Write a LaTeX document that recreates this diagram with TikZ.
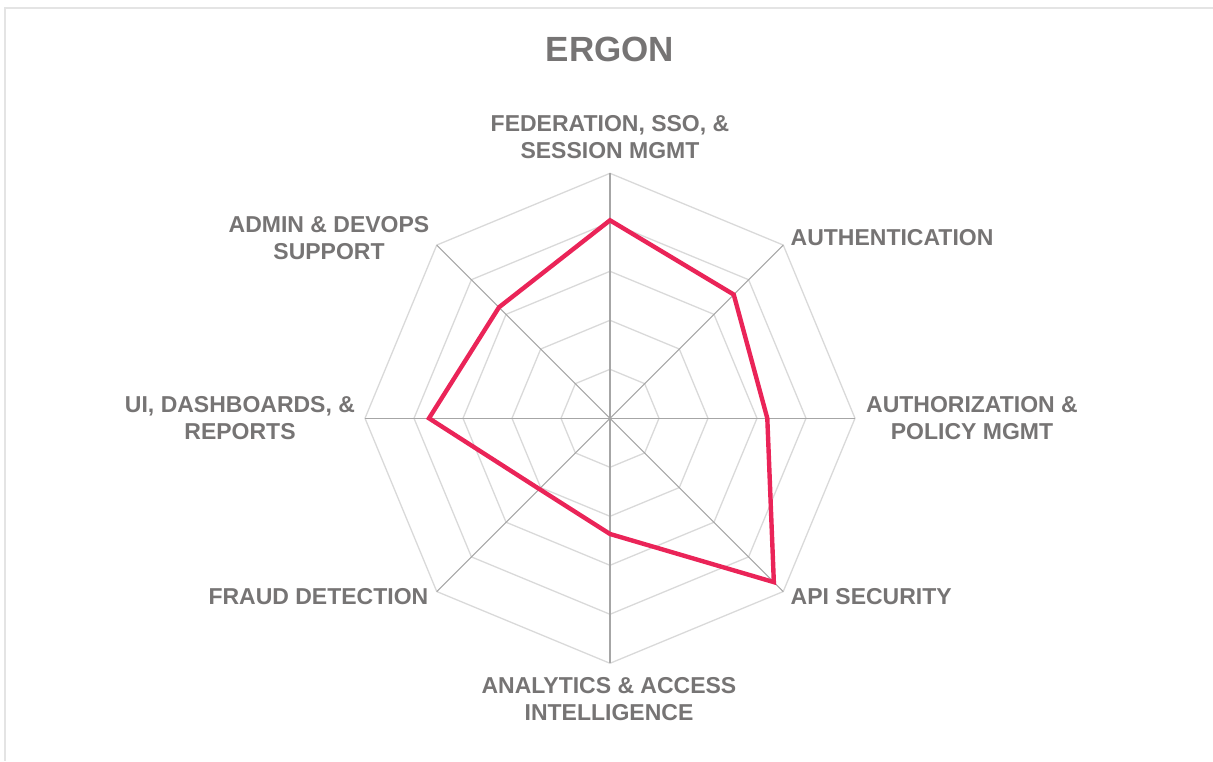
\documentclass[tikz,border=0pt]{standalone}
\usepackage{fontspec}
\setmainfont{Liberation Sans}
\usetikzlibrary{calc}
\definecolor{txtgray}{RGB}{118,116,116}
\definecolor{ringgray}{RGB}{217,217,217}
\definecolor{spokegray}{RGB}{166,166,166}
\definecolor{datared}{RGB}{234,36,88}
\definecolor{framegray}{RGB}{228,228,228}
\tikzset{
  lbl/.style={inner sep=0pt, text=txtgray, align=center,
    font=\fontsize{23}{27}\selectfont\bfseries},
  ttl/.style={inner sep=0pt, text=txtgray,
    font=\fontsize{35}{40}\selectfont\bfseries},
  ring/.style={draw=ringgray, line width=1.3pt, line join=miter},
  spoke/.style={draw=spokegray, line width=1.1pt},
  series/.style={draw=datared, line width=4.4pt, line join=miter},
  frame/.style={draw=framegray, line width=2pt}
}
\begin{document}
\begin{tikzpicture}[x=1pt,y=1pt]
\useasboundingbox (0,0) rectangle (1213,761);
% frame (top and left edges only)
\coordinate (fa) at (5,0);
\coordinate (fb) at (5,753);
\coordinate (fc) at (1213,753);
\draw[frame] (fa) -- (fb) -- (fc);
% centre
\coordinate (c) at (610,342.7);
% rings
\foreach \r in {49,98,147,196,245}{
  \draw[ring] ($(c)+(90:\r)$) \foreach \k in {1,...,7}{ -- ($(c)+(90-45*\k:\r)$)} -- cycle;
}
% spokes
\foreach \k in {0,...,7}{
  \coordinate (o\k) at ($(c)+(90-45*\k:245)$);
  \draw[spoke] (c) -- (o\k);
}
% data
\coordinate (p0) at ($(c)+(90:198)$);
\coordinate (p1) at ($(c)+(45:175)$);
\coordinate (p2) at ($(c)+(0:157.3)$);
\coordinate (p3) at ($(c)+(-45:231.7)$);
\coordinate (p4) at ($(c)+(-90:115.7)$);
\coordinate (p5) at ($(c)+(-135:100)$);
\coordinate (p6) at ($(c)+(180:181)$);
\coordinate (p7) at ($(c)+(135:157)$);
\draw[series] (p0) -- (p1) -- (p2) -- (p3) -- (p4) -- (p5) -- (p6) -- (p7) -- cycle;
% labels
\node[ttl, anchor=north] (title) at (610,724.5) {ERGON};
\node[lbl, anchor=north] (l0) at (610,646) {FEDERATION, SSO, \&\\SESSION MGMT};
\node[lbl, anchor=north west] (l1) at (790.5,532) {AUTHENTICATION};
\node[lbl, anchor=north] (l2) at (972,365) {AUTHORIZATION \&\\POLICY MGMT};
\node[lbl, anchor=north west] (l3) at (790.5,172.7) {API SECURITY};
\node[lbl, anchor=north] (l4) at (609,83.3) {ANALYTICS \& ACCESS\\INTELLIGENCE};
\node[lbl, anchor=north east] (l5) at (428.5,172.7) {FRAUD DETECTION};
\node[lbl, anchor=north] (l6) at (240,365) {UI, DASHBOARDS, \&\\REPORTS};
\node[lbl, anchor=north] (l7) at (329,545) {ADMIN \& DEVOPS\\SUPPORT};
\end{tikzpicture}
\end{document}
